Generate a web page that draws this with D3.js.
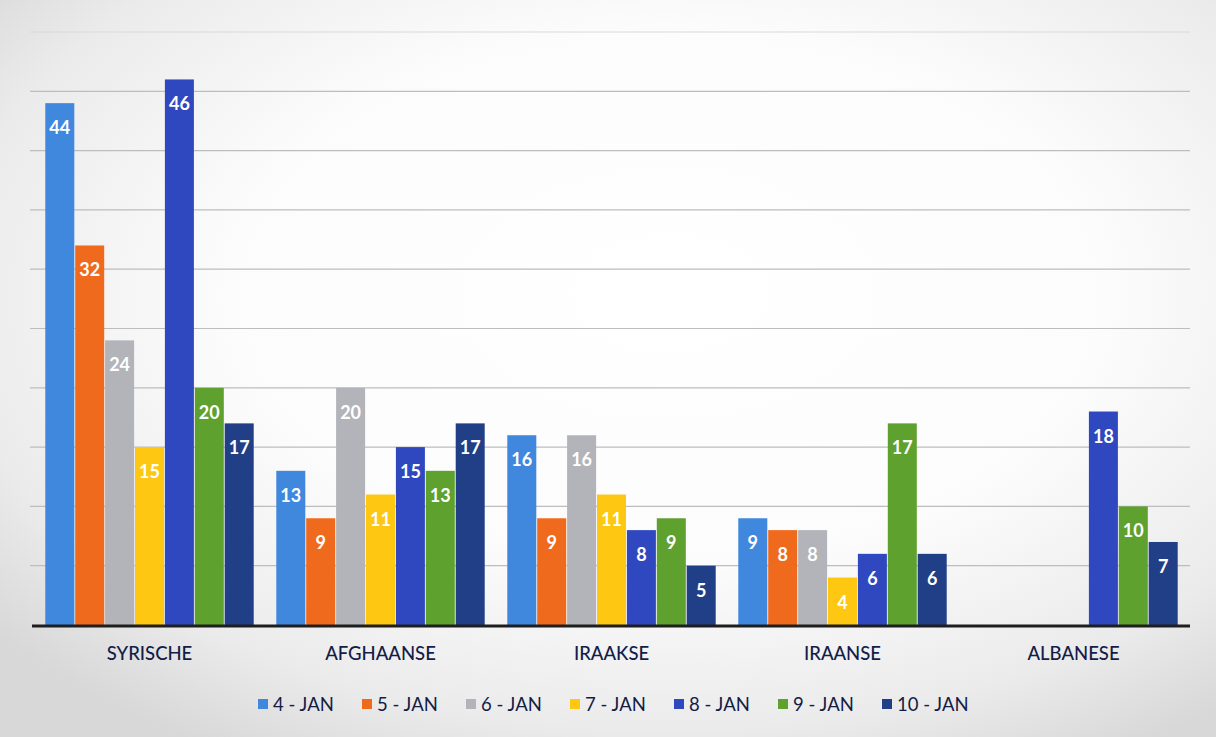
<!DOCTYPE html>
<html><head><meta charset="utf-8">
<script src="https://cdn.jsdelivr.net/npm/d3@7"></script>
<style>html,body{margin:0;padding:0;background:#fff;}svg{display:block;}</style>
</head><body>
<svg id="chart" width="1216" height="737"></svg>
<script>
const categories = ["SYRISCHE", "AFGHAANSE", "IRAAKSE", "IRAANSE", "ALBANESE"];
const seriesNames = ["4 - JAN", "5 - JAN", "6 - JAN", "7 - JAN", "8 - JAN", "9 - JAN", "10 - JAN"];
const jan4 = [44, 13, 16, 9, null];
const jan5 = [32, 9, 9, 8, null];
const jan6 = [24, 20, 16, 8, null];
const jan7 = [15, 11, 11, 4, null];
const jan8 = [46, 15, 8, 6, 18];
const jan9 = [20, 13, 9, 17, 10];
const jan10 = [17, 17, 5, 6, 7];
const seriesValues = [jan4, jan5, jan6, jan7, jan8, jan9, jan10];
const colors = ["#3f88de", "#f06a1e", "#b3b4ba", "#fec711", "#2f48c0", "#5ea12e", "#213f86"];
const yTicks = [0, 5, 10, 15, 20, 25, 30, 35, 40, 45, 50];

const svg = d3.select("#chart");
const W = 1216, H = 737;
const defs = svg.append("defs");
const rg = defs.append("radialGradient").attr("id", "bg").attr("cx", "55%").attr("cy", "40%").attr("r", "72%");
rg.append("stop").attr("offset", "0%").attr("stop-color", "#ffffff");
rg.append("stop").attr("offset", "50%").attr("stop-color", "#fcfcfc");
rg.append("stop").attr("offset", "82%").attr("stop-color", "#ebebeb");
rg.append("stop").attr("offset", "100%").attr("stop-color", "#d8d8d8");
svg.append("rect").attr("width", W).attr("height", H).attr("fill", "url(#bg)");

const x0 = d3.scaleBand().domain(categories).range([34, 1189]).paddingInner(0.09).paddingOuter(0.045);
const x1 = d3.scaleBand().domain(seriesNames).range([0, x0.bandwidth()]).padding(0.03);
const y = d3.scaleLinear().domain([0, 50]).range([625, 32]);

svg.append("g").selectAll("line").data(yTicks.filter(t => t > 0)).join("line")
  .attr("x1", 30).attr("x2", 1190)
  .attr("y1", d => y(d)).attr("y2", d => y(d))
  .attr("stroke", d => d === 50 ? "#dadada" : "#bdbdbd").attr("stroke-width", 1.2);

const groups = svg.append("g").selectAll("g").data(categories).join("g")
  .attr("transform", d => `translate(${x0(d)},0)`);

const cells = groups.selectAll("g").data((c, ci) => seriesNames.map((s, si) => ({s, si, v: seriesValues[si][ci]})).filter(d => d.v != null)).join("g");
cells.append("rect")
  .attr("x", d => x1(d.s)).attr("width", x1.bandwidth())
  .attr("y", d => y(d.v)).attr("height", d => y(0) - y(d.v))
  .attr("fill", d => colors[d.si]);
cells.append("text")
  .attr("x", d => x1(d.s) + x1.bandwidth() / 2)
  .attr("y", d => y(d.v) + 31)
  .attr("text-anchor", "middle")
  .attr("font-family", "Lato, 'Open Sans', sans-serif").attr("font-weight", "bold").attr("font-size", 18)
  .attr("fill", "#ffffff")
  .text(d => d.v);

svg.append("line").attr("x1", 32).attr("x2", 1190).attr("y1", y(0) + 1).attr("y2", y(0) + 1)
  .attr("stroke", "#1e1e1e").attr("stroke-width", 3);

const xAxis = svg.append("g").attr("transform", `translate(0,${y(0)})`)
  .call(d3.axisBottom(x0).tickSize(0).tickPadding(22));
xAxis.select(".domain").remove();
xAxis.selectAll("text").attr("font-family", "Lato, 'Open Sans', sans-serif").attr("font-size", 18.5)
  .attr("font-weight", 500).attr("fill", "#141c48");

const legendX = [258, 362, 466, 570, 674, 778, 882];
const leg = svg.append("g").selectAll("g").data(seriesNames).join("g")
  .attr("transform", (d, i) => `translate(${legendX[i]},704)`);
leg.append("rect").attr("x", 0).attr("y", -5).attr("width", 10).attr("height", 10)
  .attr("fill", (d, i) => colors[i]);
leg.append("text").attr("x", 15).attr("y", 6.5)
  .attr("font-family", "Lato, 'Open Sans', sans-serif").attr("font-size", 18.5)
  .attr("fill", "#141c48").text(d => d);
</script>
</body></html>
